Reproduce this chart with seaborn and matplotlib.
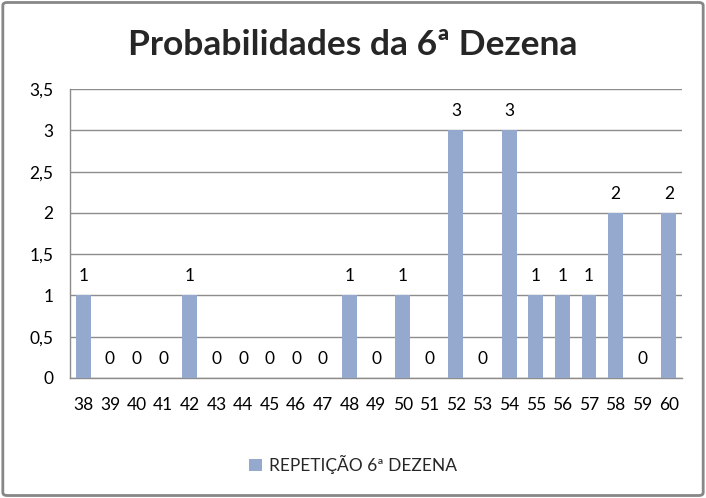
import numpy as np
import pandas as pd
import matplotlib
matplotlib.use('Agg')
import matplotlib.pyplot as plt
import seaborn as sns
from matplotlib.ticker import FuncFormatter, MultipleLocator
from matplotlib.patches import FancyBboxPatch, Patch

dezenas = [str(x) for x in range(38, 61)]
repeticao = [1, 0, 0, 0, 1, 0, 0, 0, 0, 0, 1, 0, 1, 0, 3, 0, 3, 1, 1, 1, 2, 0, 2]
titulo = 'Probabilidades da 6ª Dezena'
serie = 'REPETIÇÃO 6ª DEZENA'

df = pd.DataFrame({'dezena': dezenas, 'rep': repeticao})

sns.set_style('white')
plt.rcParams['font.family'] = ['Lato', 'DejaVu Sans']
bar_color = '#95A9CF'
grid_color = '#8C8C8C'

fig = plt.figure(figsize=(7.06, 4.98), dpi=100)
ax = fig.add_axes([0.0992, 0.241, 0.867, 0.580])

sns.barplot(data=df, x='dezena', y='rep', color=bar_color, width=0.56,
            saturation=1, linewidth=0, ax=ax, zorder=3)

ax.set_ylim(0, 3.5)
ax.yaxis.set_major_locator(MultipleLocator(0.5))
ax.yaxis.set_major_formatter(FuncFormatter(lambda v, p: ('%g' % v).replace('.', ',')))
ax.grid(axis='y', color=grid_color, linewidth=1, zorder=0)
ax.set_axisbelow(True)
ax.set_xlim(-0.5, len(dezenas) - 0.5)
for s in ['top', 'right']:
    ax.spines[s].set_visible(False)
for s in ['left', 'bottom']:
    ax.spines[s].set_color(grid_color)
    ax.spines[s].set_linewidth(1)
ax.tick_params(axis='both', length=0, labelsize=12.5, colors='black')
ax.tick_params(axis='x', pad=14)
ax.tick_params(axis='y', pad=12)
ax.set_xlabel('')
ax.set_ylabel('')

ax.bar_label(ax.containers[0], labels=[str(v) for v in repeticao],
             padding=8, fontsize=12.5, color='black')

fig.suptitle(titulo, x=0.5, y=0.942, fontsize=25.5, fontweight='bold')

fig.legend(handles=[Patch(facecolor=bar_color, edgecolor='none')], labels=[serie],
           loc='center', bbox_to_anchor=(0.5, 0.067), frameon=False,
           fontsize=12.5, handlelength=0.7, handleheight=0.7, handletextpad=0.4)

border = FancyBboxPatch((0.004, 0.005), 0.992, 0.99, boxstyle='round,pad=0,rounding_size=0.006',
                        transform=fig.transFigure, facecolor='none', edgecolor='#878787',
                        linewidth=2)
fig.patches.append(border)

fig.savefig('out.png', dpi=100)
